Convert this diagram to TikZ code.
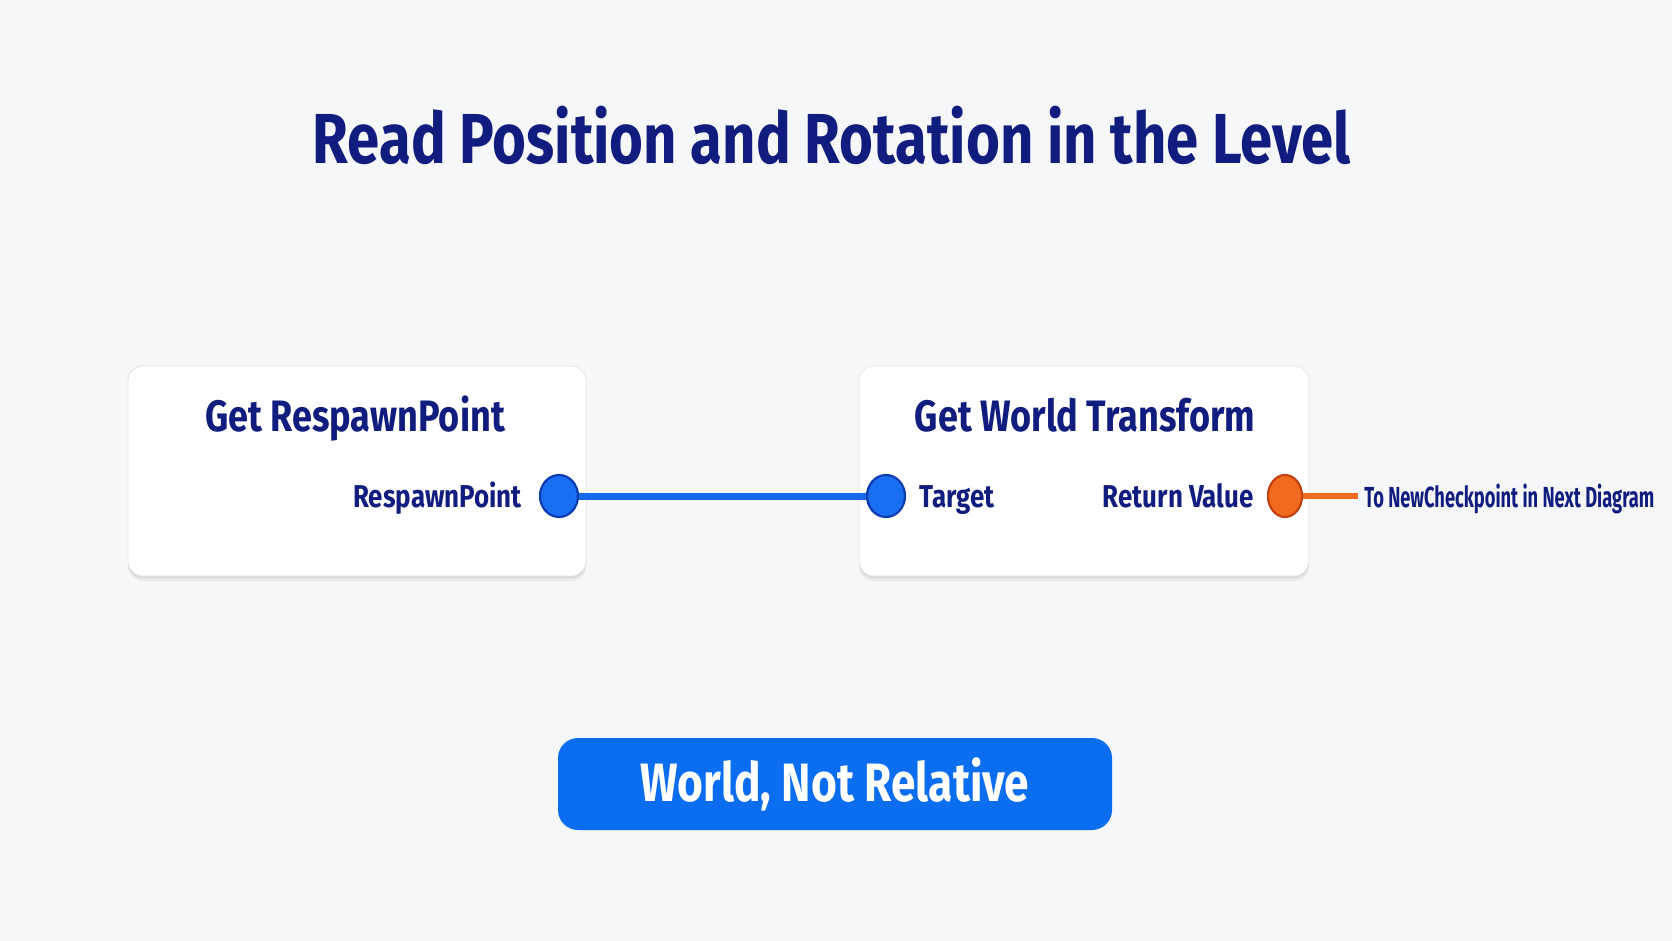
\documentclass[tikz,border=0pt]{standalone}
\usepackage{fontspec}
\setmainfont{Fira Sans}[FakeStretch=0.82]
\newfontfamily\narrowfont{Fira Sans}[FakeStretch=0.63]
\usepackage{tikz}
\usetikzlibrary{shapes.geometric}
\usetikzlibrary{shadows}
\usepackage{xcolor}
\definecolor{bgcol}{HTML}{F6F7F9}
\definecolor{navy}{HTML}{101C7E}
\definecolor{pinblue}{HTML}{1A6EF2}
\definecolor{pinblueedge}{HTML}{0B3BB0}
\definecolor{wireblue}{HTML}{1769EA}
\definecolor{pinorange}{HTML}{F26A1E}
\definecolor{pinorangeedge}{HTML}{C2410F}
\definecolor{badgeblue}{HTML}{0B6DF0}

\begin{document}
\begin{tikzpicture}[x=0.5pt, y=-0.5pt]
        % ================= styles =================
        \tikzset{
            % heading of the picture
            headline/.style={text=navy, font=\bfseries\fontsize{35.4}{40}\selectfont},
            % node card: white rounded box
            card/.style={draw=black!10, fill=white, rounded corners=7.5pt, minimum height=105pt,
                general shadow={shadow xshift=0pt, shadow yshift=-1.2pt, opacity=0.07, fill=black},
                general shadow={shadow xshift=0pt, shadow yshift=-2.6pt, opacity=0.05, fill=black}},
            % card heading
            cardhead/.style={text=navy, font=\bfseries\fontsize{22}{26}\selectfont, inner sep=0pt},
            % pin label
            pinlabel/.style={text=navy, font=\bfseries\fontsize{15.8}{18}\selectfont, inner sep=0pt},
            % pins: small ellipses
            bluepin/.style={ellipse, draw=pinblueedge, line width=1.1pt, fill=pinblue, minimum width=19pt, minimum height=21pt, inner sep=0pt},
            orangepin/.style={ellipse, draw=pinorangeedge, line width=1.1pt, fill=pinorange, minimum width=17pt, minimum height=21pt, inner sep=0pt},
            % wires
            bluewire/.style={line width=3.5pt, wireblue},
            orangewire/.style={line width=3.2pt, pinorange},
            % bottom badge
            badge/.style={fill=badgeblue, rounded corners=10pt, minimum width=277pt, minimum height=46pt,
                text=white, font=\bfseries\fontsize{27}{30}\selectfont}
        }

        % ================= background =================
        \fill[bgcol] (0,0) rectangle (1672,941);
        \useasboundingbox (0,0) rectangle (1672,941);

        % ================= heading =================
        \node[headline] (title) at (832,135) {Read Position and Rotation in the Level};

        % ================= left card: Get RespawnPoint =================
        \node[card, minimum width=229pt] (spawn) at (357,471) {};
        \node[cardhead, anchor=base] (spawnhead) at (355,431) {Get RespawnPoint};
        \node[bluepin] (spawnout) at (559,496) {};
        \node[pinlabel, anchor=base east] (spawnlabel) at (522,508) {RespawnPoint};

        % ================= right card: Get World Transform =================
        \node[card, minimum width=225pt] (world) at (1084,471) {};
        \node[cardhead, anchor=base] (worldhead) at (1085,431) {Get World Transform};
        \node[bluepin] (worldin) at (886,496) {};
        \node[pinlabel, anchor=base west] (worldinlabel) at (919,508) {Target};
        \node[orangepin] (worldout) at (1285,496) {};
        \node[pinlabel, anchor=base east] (worldoutlabel) at (1254,508) {Return Value};

        % onward label
        \node[text=navy, font=\narrowfont\bfseries\fontsize{14.5}{17}\selectfont, anchor=base west, inner xsep=3pt, inner ysep=0pt] (nextlabel) at (1358,508) {To NewCheckpoint in Next Diagram};

        % ================= wires =================
        \draw[bluewire] (spawnout) -- (worldin);
        \draw[orangewire] (worldout) -- (nextlabel.west |- worldout);

        % ================= badge =================
        \node[badge] (worldbadge) at (835,784) {World, Not Relative};

    \end{tikzpicture}
\end{document}
